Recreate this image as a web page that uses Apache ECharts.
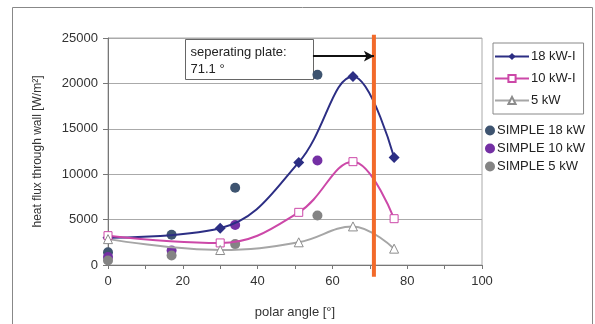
<!DOCTYPE html>
<html>
<head>
<meta charset="utf-8">
<script src="https://cdn.jsdelivr.net/npm/echarts@6/dist/echarts.min.js"></script>
<style>
html,body{margin:0;padding:0;background:#fff;}
#main{width:595px;height:324px;}
</style>
</head>
<body>
<div id="main"></div>
<script>
// measured series (polar angle, heat flux)
var kw18Angle = [0, 30, 51, 65.5, 76.5];
var kw18Flux = [3000, 4050, 11300, 20750, 11850];
var kw10Angle = [0, 30, 51, 65.5, 76.5];
var kw10Flux = [3230, 2430, 5800, 11380, 5100];
var kw5Angle = [0, 30, 51, 65.5, 76.5];
var kw5Flux = [2850, 1650, 2500, 4250, 1800];

// SIMPLE model results
var simpleAngle = [0, 17, 34, 56];
var simple18 = [1400, 3330, 8500, 20950];
var simple10 = [870, 1600, 4400, 11500];
var simple5 = [500, 1050, 2300, 5450];

// seperating plate
var plateAngle = 71.1;
var arrowFrom = 54.8;
var arrowFlux = 23000;

var xTicks = [0, 20, 40, 60, 80, 100];
var yTicks = [0, 5000, 10000, 15000, 20000, 25000];

function pairs(xs, ys) {
    var out = [];
    for (var i = 0; i < xs.length; i++) out.push([xs[i], ys[i]]);
    return out;
}

var font = "Liberation Sans, Arial, sans-serif";
var chart = echarts.init(document.getElementById("main"));
var option = {
    animation: false,
    textStyle: {fontFamily: font},
    grid: {
        left: 108,
        right: 113,
        top: 38,
        bottom: 56,
        show: true,
        borderColor: "#aaa",
        borderWidth: 1
    },
    legend: [{
        orient: "vertical",
        left: 493,
        top: 43,
        width: 92,
        padding: [7, 8, 7, 1],
        itemWidth: 34,
        itemHeight: 9,
        itemGap: 9,
        borderColor: "#888",
        borderWidth: 1,
        textStyle: {fontSize: 13, color: "#222", fontFamily: font, padding: [0, 0, 0, -3], lineHeight: 13},
        data: ["18 kW-I", "10 kW-I", "5 kW"]
    }, {
        orient: "vertical",
        left: 485,
        top: 124,
        padding: 0,
        itemWidth: 10,
        itemHeight: 10,
        itemGap: 5,
        textStyle: {fontSize: 13, color: "#222", fontFamily: font, padding: [0, 0, 0, -3]},
        data: [
            {name: "SIMPLE 18 kW", icon: "circle"},
            {name: "SIMPLE 10 kW", icon: "circle"},
            {name: "SIMPLE 5 kW", icon: "circle"}
        ]
    }],
    xAxis: {
        type: "value",
        min: xTicks[0],
        max: xTicks[xTicks.length - 1],
        interval: 20,
        name: "polar angle [°]",
        nameLocation: "middle",
        nameGap: 41,
        nameTextStyle: {fontSize: 13, color: "#333", fontFamily: font},
        axisLine: {lineStyle: {color: "#777"}},
        axisTick: {show: true, length: 4, lineStyle: {color: "#777"}},
        minorTick: {show: true, splitNumber: 2, length: 4, lineStyle: {color: "#777"}},
        axisLabel: {fontSize: 13, color: "#333", margin: 10, fontFamily: font},
        splitLine: {show: false}
    },
    yAxis: {
        type: "value",
        min: yTicks[0],
        max: yTicks[yTicks.length - 1],
        interval: 5000,
        name: "heat flux through wall [W/m²]",
        nameLocation: "middle",
        nameGap: 64,
        nameTextStyle: {fontSize: 12, color: "#333", fontFamily: font},
        axisLine: {show: true, lineStyle: {color: "#777"}},
        axisTick: {show: true, length: 5, lineStyle: {color: "#777"}},
        axisLabel: {
            fontSize: 13, color: "#333", margin: 10, fontFamily: font,
            formatter: function (v) { return String(v); }
        },
        splitLine: {lineStyle: {color: "#aaa"}}
    },
    series: [{
        name: "18 kW-I",
        type: "line",
        smooth: 0.4,
        symbol: "diamond",
        symbolSize: 11,
        color: "#2c2e84",
        lineStyle: {width: 2, color: "#2c2e84"},
        itemStyle: {color: "#2c2e84"},
        data: pairs(kw18Angle, kw18Flux)
    }, {
        name: "10 kW-I",
        type: "line",
        smooth: 0.4,
        symbol: "rect",
        symbolSize: 8,
        color: "#cc48a8",
        lineStyle: {width: 2, color: "#cc48a8"},
        itemStyle: {color: "#fff", borderColor: "#cc48a8", borderWidth: 1},
        data: pairs(kw10Angle, kw10Flux)
    }, {
        name: "5 kW",
        type: "line",
        smooth: 0.4,
        symbol: "triangle",
        symbolSize: 9,
        color: "#a6a6a6",
        lineStyle: {width: 2, color: "#a6a6a6"},
        itemStyle: {color: "#fff", borderColor: "#8c8c8c", borderWidth: 1},
        data: pairs(kw5Angle, kw5Flux)
    }, {
        name: "SIMPLE 18 kW",
        type: "scatter",
        symbolSize: 10,
        itemStyle: {color: "#3e5470", opacity: 1},
        data: pairs(simpleAngle, simple18)
    }, {
        name: "SIMPLE 10 kW",
        type: "scatter",
        symbolSize: 10,
        itemStyle: {color: "#7430a4", opacity: 1},
        data: pairs(simpleAngle, simple10)
    }, {
        name: "SIMPLE 5 kW",
        type: "scatter",
        symbolSize: 10,
        itemStyle: {color: "#848484", opacity: 1},
        data: pairs(simpleAngle, simple5)
    }, {
        name: "plate",
        type: "line",
        clip: false,
        symbol: "none",
        lineStyle: {width: 4, color: "#f26a2a"},
        data: [[plateAngle, -1300], [plateAngle, 25350]],
        markLine: {
            silent: true,
            symbol: ["none", "arrow"],
            symbolSize: [8, 10],
            label: {show: false},
            lineStyle: {color: "#111", width: 2, type: "solid"},
            data: [[{coord: [arrowFrom, arrowFlux]}, {coord: [plateAngle, arrowFlux]}]]
        }
    }],
    graphic: [{
        type: "rect",
        shape: {x: 12.5, y: 7.5, width: 580, height: 330},
        style: {fill: "none", stroke: "#888", lineWidth: 1},
        silent: true
    }, {
        type: "group",
        left: 185,
        top: 39,
        children: [{
            type: "rect",
            shape: {x: 0, y: 0, width: 128, height: 40},
            style: {fill: "#fff", stroke: "#666", lineWidth: 1}
        }, {
            type: "text",
            x: 5,
            y: 4,
            style: {
                text: "seperating plate:\n71.1 °",
                font: "13px " + font,
                fill: "#222",
                lineHeight: 17
            }
        }]
    }]
};
chart.setOption(option);
</script>
</body>
</html>
